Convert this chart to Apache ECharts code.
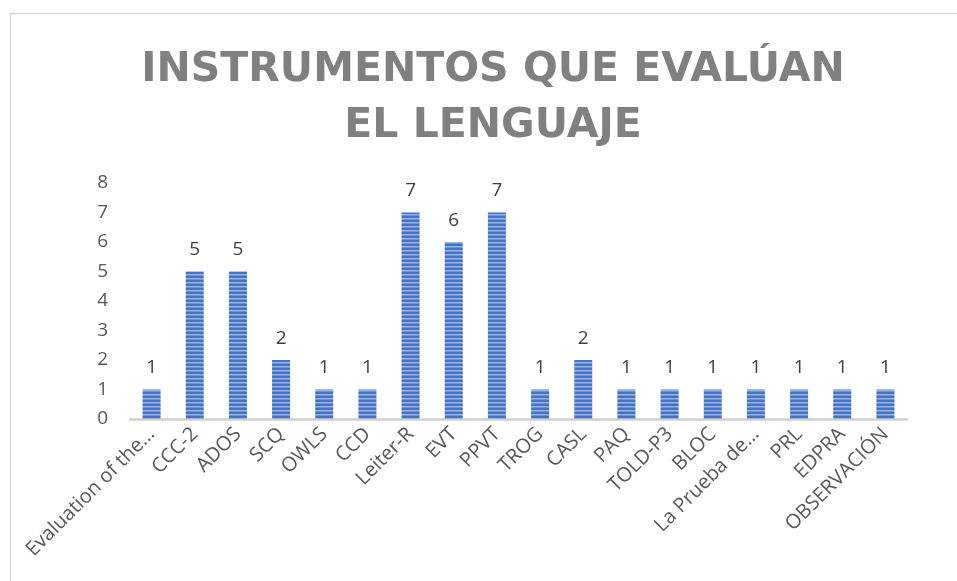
<!DOCTYPE html>
<html>
<head>
<meta charset="utf-8">
<script src="https://cdn.jsdelivr.net/npm/echarts@6/dist/echarts.min.js"></script>
<style>
  html, body { margin: 0; padding: 0; background: #fff; }
  #chart { width: 957px; height: 581px; }
</style>
</head>
<body>
<div id="chart"></div>
<script>
// datos
const categories = ['Evaluation of the…', 'CCC-2', 'ADOS', 'SCQ', 'OWLS', 'CCD', 'Leiter-R', 'EVT', 'PPVT',
  'TROG', 'CASL', 'PAQ', 'TOLD-P3', 'BLOC', 'La Prueba de…', 'PRL', 'EDPRA', 'OBSERVACIÓN']
const values = [1, 5, 5, 2, 1, 1, 7, 6, 7, 1, 2, 1, 1, 1, 1, 1, 1, 1]
const yTicks = [0, 1, 2, 3, 4, 5, 6, 7, 8]

// rayas horizontales de las barras
const pat = document.createElement('canvas')
pat.width = 4
pat.height = 4
const ctx = pat.getContext('2d')
ctx.fillStyle = '#4472c4'
ctx.fillRect(0, 0, 4, 4)
ctx.fillStyle = '#9db4e0'
ctx.fillRect(0, 2, 4, 1)
ctx.fillStyle = '#6f92d2'
ctx.fillRect(0, 3, 4, 1)

const font = 'Open Sans'
let myChart = echarts.init(document.getElementById('chart'))
let option = {
  backgroundColor: '#fff',
  animation: false,
  title: {
    text: 'INSTRUMENTOS QUE EVALÚAN\nEL LENGUAJE',
    left: 488,
    top: 37,
    textAlign: 'center',
    textStyle: {
      fontFamily: 'DejaVu Sans',
      fontWeight: 'bold',
      fontSize: 41,
      lineHeight: 56,
      color: '#808080'
    }
  },
  graphic: [{
    type: 'rect',
    shape: { x: 10.5, y: 13.5, width: 1000, height: 1000 },
    style: { fill: 'none', stroke: '#d9d9d9', lineWidth: 1.5 },
    silent: true
  }],
  grid: { left: 130, right: 50, top: 183, bottom: 162 },
  xAxis: {
    type: 'category',
    data: categories,
    axisLine: { lineStyle: { color: '#d0d0d0', width: 2.5 } },
    axisTick: { show: false },
    axisLabel: {
      interval: 0,
      rotate: 45,
      margin: 12,
      fontFamily: font,
      fontSize: 20,
      color: '#595959'
    }
  },
  yAxis: {
    type: 'value',
    min: 0,
    max: 8,
    interval: 1,
    splitLine: { show: false },
    axisLine: { show: false },
    axisTick: { show: false },
    axisLabel: {
      margin: 22,
      fontFamily: font,
      fontSize: 19,
      color: '#595959',
      formatter: v => yTicks.includes(v) ? String(v) : ''
    }
  },
  series: [{
    type: 'bar',
    data: values,
    barWidth: 18,
    itemStyle: { color: { image: pat, repeat: 'repeat' } },
    label: {
      show: true,
      position: 'top',
      distance: 12,
      fontFamily: font,
      fontSize: 19,
      color: '#404040'
    }
  }]
}
myChart.setOption(option)
</script>
</body>
</html>
